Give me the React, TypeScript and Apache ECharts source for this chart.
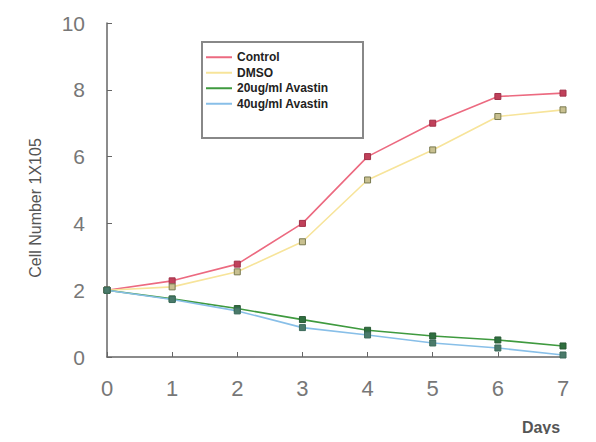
import React, { useEffect, useRef } from "react";
import * as echarts from "echarts";

const days = [0, 1, 2, 3, 4, 5, 6, 7];
const control = [2.0, 2.28, 2.78, 4.0, 6.0, 7.0, 7.8, 7.9];
const dmso = [2.0, 2.1, 2.55, 3.45, 5.3, 6.2, 7.2, 7.4];
const avastin20 = [2.0, 1.74, 1.45, 1.12, 0.8, 0.63, 0.51, 0.33];
const avastin40 = [2.0, 1.72, 1.38, 0.88, 0.66, 0.42, 0.27, 0.06];
const seriesNames = ["Control", "DMSO", "20ug/ml Avastin", "40ug/ml Avastin"];
const lineColors = ["#ec6a80", "#f7e49a", "#3f9a3f", "#88bfe8"];
const yTicks = [0, 2, 4, 6, 8, 10];

export default function App() {
  const ref = useRef<HTMLDivElement>(null);
  useEffect(() => {
    if (!ref.current) return;
    const chart = echarts.init(ref.current, undefined, { renderer: "svg" });
    const mk = (name: string, vals: number[], line: string, mark: string, border: string) => ({
      name,
      type: "line",
      data: days.map((d, i) => [d, vals[i]]),
      symbol: "rect",
      symbolSize: 6,
      lineStyle: { color: line, width: 1.6 },
      itemStyle: { color: mark, borderColor: border, borderWidth: 1 },
      emphasis: { disabled: true },
    });
    chart.setOption({
      animation: false,
      backgroundColor: "#ffffff",
      textStyle: { fontFamily: "Arial, 'Liberation Sans', sans-serif" },
      grid: { left: 107, right: 33, top: 23, bottom: 85 },
      legend: {
        orient: "vertical",
        left: 206,
        top: 50,
        padding: 0,
        itemGap: 1,
        itemWidth: 26,
        itemHeight: 2,
        icon: "rect",
        data: seriesNames.map((n, i) => ({
          name: n,
          itemStyle: { color: lineColors[i], borderWidth: 0 },
        })),
        textStyle: {
          fontSize: 12,
          fontWeight: "bold",
          color: "#222",
          lineHeight: 14.5,
          width: 118,
          overflow: "truncate",
          ellipsis: "",
        },
      },
      xAxis: {
        type: "value",
        min: 0,
        max: 7,
        interval: 1,
        splitLine: { show: false },
        axisLine: { lineStyle: { color: "#666", width: 1.5 } },
        axisTick: { inside: true, length: 5, lineStyle: { color: "#666" } },
        axisLabel: { fontSize: 22, color: "#777", margin: 20 },
      },
      yAxis: {
        type: "value",
        min: 0,
        max: 10,
        interval: 2,
        splitLine: { show: false },
        axisLine: { show: true, lineStyle: { color: "#666", width: 1.5 } },
        axisTick: { show: true, inside: true, length: 5, lineStyle: { color: "#666" } },
        axisLabel: {
          fontSize: 21,
          color: "#777",
          margin: 22,
          formatter: (v: number) => (yTicks.includes(v) ? String(v) : ""),
        },
      },
      graphic: [
        {
          type: "rect",
          shape: { x: 202, y: 42, width: 161, height: 96 },
          style: { fill: "none", stroke: "#888", lineWidth: 2 },
          z: 10,
        },
        {
          type: "text",
          x: 35,
          y: 208,
          rotation: Math.PI / 2,
          style: {
            text: "Cell Number 1X105",
            fontSize: 16,
            fill: "#555",
            align: "center",
            verticalAlign: "middle",
            fontFamily: "Arial, 'Liberation Sans', sans-serif",
          },
        },
        {
          type: "text",
          x: 541,
          y: 427,
          style: {
            text: "Days",
            fontSize: 16,
            fontWeight: "bold",
            fill: "#555",
            align: "center",
            verticalAlign: "middle",
            fontFamily: "Arial, 'Liberation Sans', sans-serif",
          },
        },
      ],
      series: [
        mk(seriesNames[0], control, lineColors[0], "#c0405a", "#a03048"),
        mk(seriesNames[1], dmso, lineColors[1], "#c8c090", "#7a7a50"),
        mk(seriesNames[2], avastin20, lineColors[2], "#2f6f3f", "#2a5a35"),
        mk(seriesNames[3], avastin40, lineColors[3], "#4a7a6a", "#3a6a5a"),
      ],
    });
    return () => chart.dispose();
  }, []);
  return <div ref={ref} style={{ width: 596, height: 442, margin: -8 }} />;
}
